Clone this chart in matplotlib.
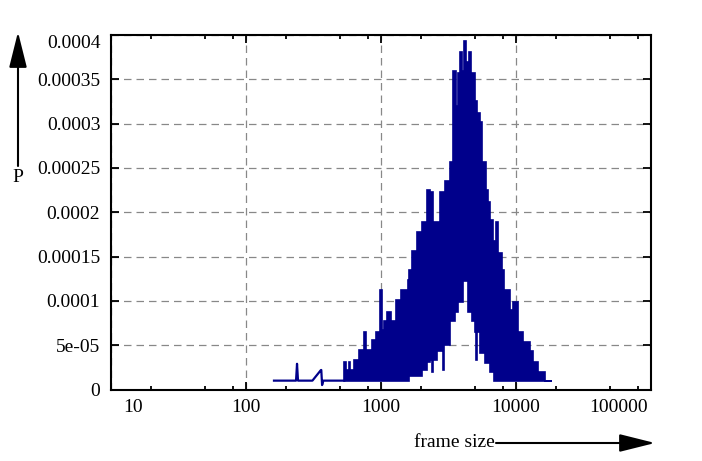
import matplotlib
matplotlib.use('Agg')
import matplotlib.pyplot as plt
from matplotlib.ticker import FixedLocator, NullFormatter
from matplotlib.patches import FancyArrowPatch

plt.rcParams['font.family'] = ['Liberation Serif', 'DejaVu Serif']

BLUE = '#00008b'

# ---- data ----
# sparse low-size part (drawn as a line)
sparse_size = [162, 236, 240, 244, 312, 361, 363, 368, 376, 537]
sparse_p = [1e-5, 1e-5, 2.9e-5, 1e-5, 1e-5, 2.2e-5, 2.2e-5, 0.5e-5, 1e-5, 1e-5]

# dense part: upper envelope (segment start sizes + final end) and values
upper_size = [537, 556, 580, 590, 638, 695, 757, 783, 868, 929, 995, 1030, 1065,
              1121, 1201, 1308, 1425, 1590, 1610, 1634, 1720, 1842, 2006, 2186,
              2300, 2422, 2730, 2974, 3239, 3427, 3589, 3734, 3889, 4025, 4137,
              4311, 4506, 4695, 4967, 5167, 5412, 5667, 5996, 6200, 6421, 6759,
              7150, 7362, 7883, 8158, 9041, 9517, 10366, 11290, 12728, 13402,
              14595, 16452, 18544]
upper_p = [3.1e-5, 2.2e-5, 3.1e-5, 2.2e-5, 3.3e-5, 4.5e-5, 6.5e-5, 4.5e-5, 5.6e-5,
           6.5e-5, 1.12e-4, 6.7e-5, 7.7e-5, 8.8e-5, 7.7e-5, 1.01e-4, 1.12e-4,
           1.24e-4, 1.12e-4, 1.35e-4, 1.56e-4, 1.78e-4, 1.89e-4, 2.25e-4, 2.23e-4,
           1.89e-4, 2.23e-4, 2.35e-4, 2.57e-4, 3.59e-4, 3.2e-4, 3.57e-4, 3.81e-4,
           3.59e-4, 3.93e-4, 3.7e-4, 3.81e-4, 3.57e-4, 3.25e-4, 3.12e-4, 3.02e-4,
           2.57e-4, 2.25e-4, 2.12e-4, 1.91e-4, 1.67e-4, 1.89e-4, 1.54e-4, 1.35e-4,
           1.12e-4, 9.0e-5, 9.9e-5, 6.5e-5, 5.4e-5, 4.3e-5, 3.1e-5, 2.0e-5, 1.0e-5]

# dense part: lower envelope
lower_size = [537, 1634, 2006, 2186, 2300, 2400, 2450, 2594, 2825, 2900, 2960, 3239,
              3528, 3734, 4046, 4407, 4719, 4967, 5100, 5160, 5412, 5895, 6421,
              6900, 18544]
lower_p = [1e-5, 1.5e-5, 2.2e-5, 3.1e-5, 3.3e-5, 2.0e-5, 3.3e-5, 4.3e-5, 5.0e-5,
           2.2e-5, 5.0e-5, 7.7e-5, 8.8e-5, 9.9e-5, 1.22e-4, 8.8e-5, 7.7e-5, 6.5e-5,
           3.3e-5, 6.5e-5, 4.1e-5, 3.0e-5, 2.0e-5, 1e-5]

xticks = [10, 100, 1000, 10000, 100000]
xtick_labels = ['10', '100', '1000', '10000', '100000']
xminor = [20, 50, 80, 200, 500, 800, 2000, 5000, 8000, 20000, 50000, 80000]
yticks = [0, 5e-5, 1e-4, 1.5e-4, 2e-4, 2.5e-4, 3e-4, 3.5e-4, 4e-4]
ytick_labels = ['0', '5e-05', '0.0001', '0.00015', '0.0002', '0.00025', '0.0003',
                '0.00035', '0.0004']

W, H = 702, 461
fig = plt.figure(figsize=(W / 100, H / 100), dpi=100)
ax = fig.add_axes([110.7 / W, 1 - 389.5 / H, 540 / W, 354.5 / H])
ax.set_xscale('log')
ax.set_xlim(10, 100000)
ax.set_ylim(0, 4e-4)


def step_vertices(xs, ps):
    vx, vy = [], []
    for i, p in enumerate(ps):
        vx += [xs[i], xs[i + 1]]
        vy += [p, p]
    return vx, vy


ux, uy = step_vertices(upper_size, upper_p)
lx, ly = step_vertices(lower_size, lower_p)
ax.fill(ux + lx[::-1], uy + ly[::-1], facecolor=BLUE, edgecolor=BLUE, lw=1.2, zorder=3)
ax.plot(sparse_size, sparse_p, color=BLUE, lw=1.6, zorder=3)

# ticks
ax.xaxis.set_major_locator(FixedLocator(xticks))
ax.xaxis.set_minor_locator(FixedLocator(xminor))
ax.xaxis.set_minor_formatter(NullFormatter())
ax.set_xticklabels(['', *xtick_labels[1:-1], ''])
ax.set_yticks(yticks)
ax.set_yticklabels(ytick_labels[:-1] + [''])
ax.tick_params(which='both', direction='in', top=True, right=True, labelsize=14,
               width=1.3, colors='black')
ax.tick_params(which='major', length=5.5)
ax.tick_params(which='minor', length=3)
ax.tick_params(axis='x', pad=7)
ax.tick_params(axis='y', pad=7.5)

# shifted edge labels
ax.annotate(xtick_labels[0], xy=(xticks[0], 0), xycoords=('data', 'axes fraction'),
            xytext=(16, -7), textcoords='offset points', ha='center', va='top',
            fontsize=14, annotation_clip=False)
ax.annotate(xtick_labels[-1], xy=(xticks[-1], 0), xycoords=('data', 'axes fraction'),
            xytext=(-23.2, -7), textcoords='offset points', ha='center', va='top',
            fontsize=14, annotation_clip=False)
ax.annotate(ytick_labels[-1], xy=(0, yticks[-1]), xycoords=('axes fraction', 'data'),
            xytext=(-7.5, -5.8), textcoords='offset points', ha='right', va='center',
            fontsize=14, annotation_clip=False)

for s in ax.spines.values():
    s.set_linewidth(1.5)
    s.set_zorder(5)

ax.grid(True, which='major', color='#888888', linestyle=(0, (6, 4)), lw=0.9)
ax.set_axisbelow(True)

# axis labels with arrows
fig.text(18 / W, 1 - 177.5 / H, 'P', ha='center', va='center', fontsize=14)
fig.add_artist(FancyArrowPatch((18 / W, 1 - 166 / H), (18 / W, 1 - 32 / H),
                               transform=fig.transFigure,
                               arrowstyle='-|>,head_length=2.2,head_width=0.55',
                               mutation_scale=10, color='black', lw=1.5,
                               shrinkA=0, shrinkB=0))
fig.text(495 / W, 1 - 442 / H, 'frame size', ha='right', va='center', fontsize=14)
fig.add_artist(FancyArrowPatch((496 / W, 1 - 443 / H), (655 / W, 1 - 443 / H),
                               transform=fig.transFigure,
                               arrowstyle='-|>,head_length=2.2,head_width=0.55',
                               mutation_scale=10, color='black', lw=1.5,
                               shrinkA=0, shrinkB=0))

fig.savefig('out.png', dpi=100)
